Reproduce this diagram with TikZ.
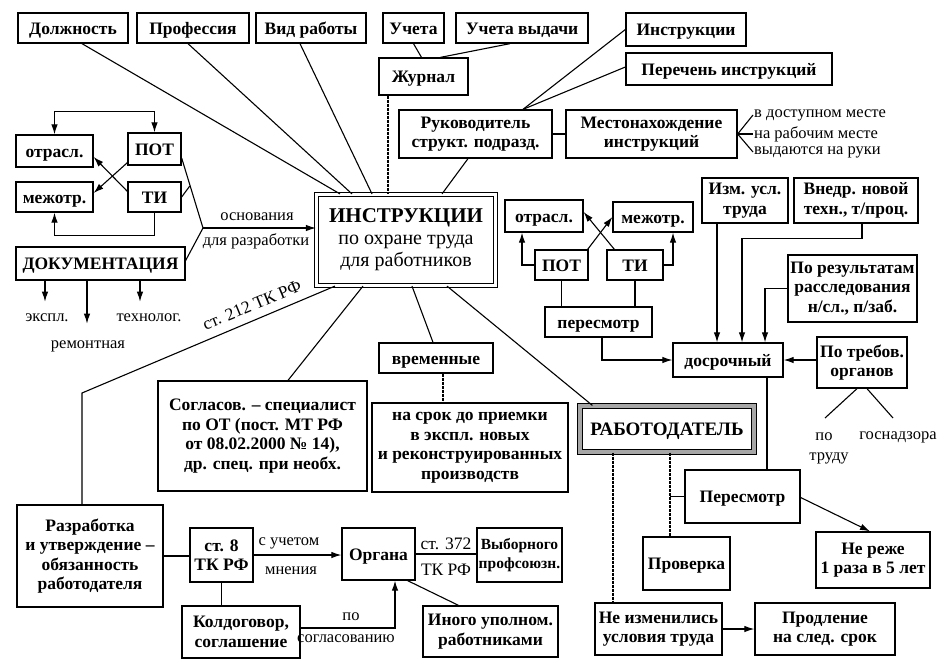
\documentclass[tikz,border=0pt]{standalone}
\usepackage{fontspec}
\setmainfont{Liberation Serif}
\usetikzlibrary{arrows.meta}
\begin{document}
\begin{tikzpicture}[x=1pt,y=-1pt,
 box/.style={draw, line width=1.3pt, inner sep=0pt, align=center, font=\bfseries\fontsize{17.5}{19.5}\selectfont},
 one/.style={text height=12pt, text depth=0pt},
 mainbox/.style={draw, line width=1.2pt, double, double distance=2.5pt, inner sep=0pt, align=center, font=\fontsize{20}{22}\selectfont},
 rabbox/.style={draw, line width=1.2pt, double=black!35, double distance=3.5pt, inner sep=0pt, align=center, font=\bfseries\fontsize{19}{21}\selectfont, text height=13pt, text depth=0pt},
 lab/.style={inner sep=1pt, align=center, font=\fontsize{16.5}{18}\selectfont},
 conn/.style={line width=1.1pt},
 arr/.style={conn, -{Latex[length=10pt,width=6.5pt]}},
 darr/.style={conn, {Latex[length=10pt,width=6.5pt]}-{Latex[length=10pt,width=6.5pt]}},
 thinv/.style={line width=1.1pt, dash pattern=on 3pt off 1pt}]
\fill[white] (0,0) rectangle (948,664);
\useasboundingbox (0,0) rectangle (948,664);

% ---- top row
\node[box,one,minimum width=110pt,minimum height=30pt] (dol) at (73,28) {Должность};
\node[box,one,minimum width=112pt,minimum height=30pt] (prof) at (193,28) {Профессия};
\node[box,one,minimum width=110pt,minimum height=30pt] (vid) at (311,28) {Вид работы};
\node[box,one,minimum width=61pt,minimum height=30pt] (uch) at (413.5,28) {Учета};
\node[box,one,minimum width=132pt,minimum height=30pt] (uchv) at (522,28) {Учета выдачи};
\node[box,one,minimum width=89pt,minimum height=37pt] (zhur) at (423.5,76.5) {Журнал};
\node[box,one,minimum width=120pt,minimum height=33pt] (instr) at (686,29.5) {Инструкции};
\node[box,one,minimum width=206pt,minimum height=32pt] (perech) at (729,69) {Перечень инструкций};
\node[box,minimum width=153pt,minimum height=48pt] (ruk) at (475.5,134) {Руководитель\\структ. подразд.};
\node[box,minimum width=171pt,minimum height=48pt] (mesto) at (651.5,134) {Местонахождение\\инструкций};

% ---- main
\node[mainbox,minimum width=179pt,minimum height=91pt] (main) at (406,240) {{\bfseries\fontsize{21}{24}\selectfont ИНСТРУКЦИИ}\\по охране труда\\для работников};

% ---- left cluster
\node[box,one,minimum width=77pt,minimum height=32pt] (otr1) at (54.5,151) {отрасл.};
\node[box,one,minimum width=53pt,minimum height=32pt] (pot1) at (154.5,149) {ПОТ};
\node[box,one,minimum width=77pt,minimum height=30pt] (mezh1) at (54.5,197) {межотр.};
\node[box,one,minimum width=53pt,minimum height=30pt] (ti1) at (154.5,197) {ТИ};
\node[box,one,minimum width=169pt,minimum height=33pt] (doc) at (100.5,263.5) {ДОКУМЕНТАЦИЯ};

% ---- right-centre cluster
\node[box,one,minimum width=78pt,minimum height=32pt] (otr2) at (544,216) {отрасл.};
\node[box,one,minimum width=80pt,minimum height=30pt] (mezh2) at (653,217) {межотр.};
\node[box,one,minimum width=53pt,minimum height=30pt] (pot2) at (561.5,265) {ПОТ};
\node[box,one,minimum width=56pt,minimum height=30pt] (ti2) at (635,265) {ТИ};
\node[box,one,minimum width=107pt,minimum height=30pt] (peres1) at (598.5,322) {пересмотр};

% ---- right cluster
\node[box,minimum width=86pt,minimum height=45pt] (izm) at (745,200.5) {Изм. усл.\\труда};
\node[box,minimum width=124pt,minimum height=45pt] (vnedr) at (856,200.5) {Внедр. новой\\техн., т/проц.};
\node[box,minimum width=129pt,minimum height=67pt] (porez) at (852.5,288.5) {По результатам\\расследования\\н/сл., п/заб.};
\node[box,one,minimum width=110pt,minimum height=34pt] (dosr) at (728,360) {досрочный};
\node[box,minimum width=90pt,minimum height=51pt] (potreb) at (862,362.5) {По требов.\\органов};
\node[rabbox,minimum width=174pt,minimum height=46pt] (rab) at (667,429) {РАБОТОДАТЕЛЬ};
\node[box,one,minimum width=115pt,minimum height=53pt] (peres2) at (742.5,496.5) {Пересмотр};
\node[box,one,minimum width=87pt,minimum height=53pt] (prov) at (686.5,563.5) {Проверка};
\node[box,minimum width=114pt,minimum height=56pt] (nereje) at (873,560) {Не реже\\1 раза в 5 лет};
\node[box,minimum width=127pt,minimum height=52pt] (neizm) at (658.5,629) {Не изменились\\условия труда};
\node[box,minimum width=140pt,minimum height=52pt] (prodl) at (825,629) {Продление\\на след. срок};

% ---- bottom
\node[box,minimum width=209pt,minimum height=110pt] (soglas) at (262.5,436) {Согласов. – специалист\\по ОТ (пост. МТ РФ\\от 08.02.2000 № 14),\\др. спец. при необх.};
\node[box,one,minimum width=114pt,minimum height=30pt] (vrem) at (436,358) {временные};
\node[box,minimum width=196pt,minimum height=89pt] (nasrok) at (470,447.5) {на срок до приемки\\в экспл. новых\\и реконструированных\\производств};
\node[box,minimum width=146pt,minimum height=102pt] (razr) at (90,556) {Разработка\\и утверждение –\\обязанность\\работодателя};
\node[box,minimum width=63pt,minimum height=54pt] (st8) at (221.5,555) {ст. 8\\ТК РФ};
\node[box,one,minimum width=73pt,minimum height=52pt] (organa) at (378.5,554) {Органа};
\node[box,minimum width=85pt,minimum height=54pt,font=\bfseries\fontsize{15.5}{19}\selectfont] (vybor) at (519.5,555) {Выборного\\профсоюзн.};
\node[box,minimum width=135pt,minimum height=51pt] (inogo) at (490.5,631.5) {Иного уполном.\\работниками};
\node[box,minimum width=118pt,minimum height=52pt] (koll) at (241,632) {Колдоговор,\\соглашение};

% ---- free labels
\node[lab,anchor=west] (t1) at (753,115) {в доступном месте};
\node[lab,anchor=west] (t2) at (753,134) {на рабочим месте};
\node[lab,anchor=west] (t3) at (753,152) {выдаются на руки};
\node[lab] (osn) at (257,217) {основания};
\node[lab] (dlr) at (256,241) {для разработки};
\node[lab] (expl) at (47,318) {экспл.};
\node[lab] (rem) at (88,346) {ремонтная};
\node[lab] (tech) at (149,318) {технолог.};
\node[lab,rotate=22.5,font=\fontsize{17.5}{19}\selectfont] (st212) at (252,305) {ст. 212 ТК РФ};
\node[lab] (po1) at (824,437) {по};
\node[lab] (trudu) at (829,458) {труду};
\node[lab] (gosn) at (898,437) {госнадзора};
\node[lab] (uchet) at (289,543) {с учетом};
\node[lab] (mnen) at (291,571) {мнения};
\node[lab,font=\fontsize{17.5}{19}\selectfont] (st372) at (446,544) {ст. 372};
\node[lab,font=\fontsize{17.5}{19}\selectfont] (tkrf) at (446,570) {ТК РФ};
\node[lab] (po2) at (351,617) {по};
\node[lab] (sogl) at (346,639) {согласованию};

% ---- connectors into main box
\draw[conn] ([xshift=9pt]dol.south) -- ([xshift=-66pt]main.north);
\draw[conn] ([xshift=-5pt]prof.south) -- ([xshift=-54pt]main.north);
\draw[conn] ([xshift=-11pt]vid.south) -- ([xshift=-34pt]main.north);
\draw[thinv] ([xshift=-35.5pt]zhur.south) -- ([xshift=-18pt]main.north);
\draw[conn] ([xshift=-7.5pt]ruk.south) -- ([xshift=36pt]main.north);

\draw[conn] (uch.south) -- ([xshift=-2pt]zhur.north);
\draw[conn] ([xshift=-12pt]uchv.south) -- ([xshift=17pt]zhur.north);
\draw[conn] ([xshift=47.5pt]ruk.north) -- (instr.west);
\draw[conn] ([xshift=47.5pt]ruk.north) -- ([yshift=2pt]perech.west);
\draw[conn] (ruk.east) -- (mesto.west);
\draw[conn] (mesto.east) -- (t1.west);
\draw[conn] (mesto.east) -- (t2.west);
\draw[conn] (mesto.east) -- (t3.west);

% ---- left cluster connectors
\draw[darr] (otr1.north) -- ++(0,-23) -| (pot1.north);
\draw[arr] ([yshift=3pt]pot1.south west) -- ([yshift=4pt]mezh1.east);
\draw[arr] ([yshift=-10pt]ti1.north west) -- ([yshift=-6pt]otr1.east);
\draw[arr] (ti1.south) -- ++(0,23) -| (mezh1.south);
\coordinate (J1) at (203,228);
\coordinate (J2) at (189.8,186);
\draw[conn] ([yshift=-9pt]pot1.east) -- (J1);
\draw[conn] (ti1.east) -- (J2);
\draw[conn] ([yshift=3pt]doc.east) -- (J1);
\draw[arr] (J1) -- (J1 -| main.west);
\draw[arr] ([xshift=-55.5pt]doc.south) -- ++(0,21);
\draw[arr] ([xshift=-13.5pt]doc.south) -- ++(0,43);
\draw[arr] ([xshift=39.5pt]doc.south) -- ++(0,21);

% ---- from main box downward
\coordinate (c212) at (82,393);
\draw[conn] ([xshift=-71pt]main.south) -- (c212) -- ([xshift=-8pt]razr.north);
\draw[conn] ([xshift=-43pt]main.south) -- ([xshift=25.5pt]soglas.north);
\draw[conn] ([xshift=6pt]main.south) -- ([xshift=-3pt]vrem.north);
\draw[conn] ([xshift=41pt]main.south) -- ([xshift=13pt]rab.north west);
\coordinate (v1) at ([xshift=7pt]vrem.south);
\draw[thinv] (v1) -- (v1 |- nasrok.north);

% ---- right-centre connectors
\draw[arr] (pot2.west) -| ([xshift=-22pt]otr2.south);
\draw[arr] (ti2.east) -| ([xshift=20pt]mezh2.south);
\draw[arr] ([xshift=-1pt]pot2.north east) -- (mezh2.west);
\draw[arr] ([xshift=8pt]ti2.north west) -- ([yshift=4pt]otr2.east);
\draw[conn] (pot2.south) -- (pot2.south |- peres1.north);
\draw[conn] (ti2.south) -- (ti2.south |- peres1.north);
\coordinate (p1) at ([xshift=3.5pt]peres1.south);
\draw[arr] (p1) |- (dosr.west);

% ---- right connectors
\coordinate (iz) at ([xshift=-28pt]izm.south);
\draw[arr] (iz) -- (iz |- dosr.north);
\draw[arr] ([xshift=6pt]vnedr.south) -- ++(0,15) -| ([xshift=14pt]dosr.north);
\draw[arr] (porez.west) -| ([xshift=37pt]dosr.north);
\draw[arr] (potreb.west |- dosr.east) -- (dosr.east);
\coordinate (q1) at (825,418);
\coordinate (q2) at (893,418);
\draw[conn] ([xshift=-5pt]potreb.south) -- (q1);
\draw[conn] ([xshift=5pt]potreb.south) -- (q2);
\coordinate (d1) at ([xshift=39pt]dosr.south);
\draw[conn] (d1) -- (d1 |- peres2.north);

% ---- employer
\coordinate (r1) at ([xshift=3pt]rab.south);
\draw[thinv] (r1) -- (r1 |- prov.north);
\draw[conn] (peres2.west -| r1) -- (peres2.west);
\coordinate (r2) at ([xshift=-54pt]rab.south);
\draw[thinv] (r2) -- (r2 |- neizm.north);
\draw[arr] ([yshift=-1pt]peres2.east) -- ([xshift=-3pt]nereje.north);
\draw[arr] (neizm.east) -- (prodl.west);

% ---- bottom-left connectors
\draw[conn] (razr.east) -- (razr.east -| st8.west);
\draw[arr] (st8.east) -- (st8.east -| organa.west);
\draw[conn] (organa.east) -- (organa.east -| vybor.west);
\draw[conn] ([xshift=-32pt]inogo.north) -- ([xshift=-8pt]organa.south east);
\draw[conn] (st8.south) -- (st8.south |- koll.north);
\draw[arr] ([yshift=4pt]koll.east) -| ([xshift=16.5pt]organa.south);
\end{tikzpicture}
\end{document}
